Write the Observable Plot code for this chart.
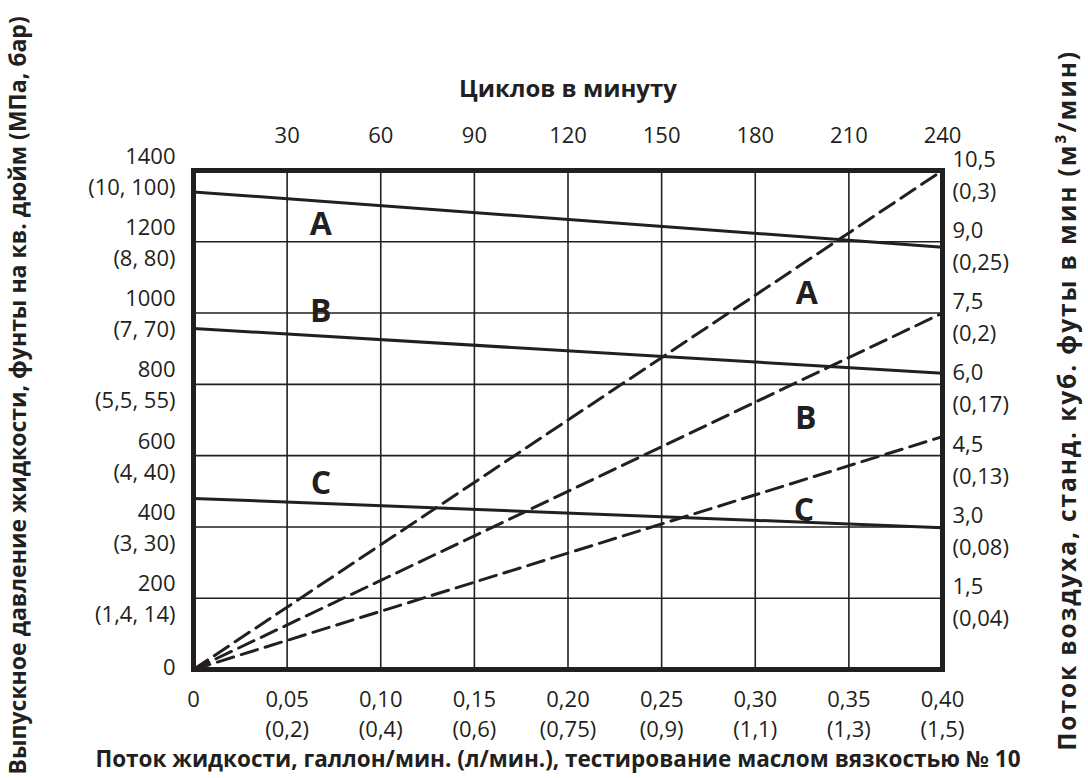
<!DOCTYPE html>
<html><head><meta charset="utf-8">
<script src="https://cdn.jsdelivr.net/npm/d3@7"></script>
<script src="https://cdn.jsdelivr.net/npm/@observablehq/plot@0.6"></script>
<style>
html,body{margin:0;padding:0;background:#fff;}
#chart svg{display:block;}
</style></head><body><div id="chart"></div>
<script>
// Fluid flow (gpm) ticks and labels
const flowTicks = [0, 0.05, 0.10, 0.15, 0.20, 0.25, 0.30, 0.35, 0.40];
const flowLabels = ["0", "0,05", "0,10", "0,15", "0,20", "0,25", "0,30", "0,35", "0,40"];
const flowLpmLabels = ["", "(0,2)", "(0,4)", "(0,6)", "(0,75)", "(0,9)", "(1,1)", "(1,3)", "(1,5)"];
// Cycles per minute (top axis)
const cycleTicks = [30, 60, 90, 120, 150, 180, 210, 240];
// Pressure (psi) ticks and labels
const pressureTicks = [0, 200, 400, 600, 800, 1000, 1200, 1400];
const pressureLabels = ["0", "200", "400", "600", "800", "1000", "1200", "1400"];
const pressureMetricLabels = ["", "(1,4, 14)", "(3, 30)", "(4, 40)", "(5,5, 55)", "(7, 70)", "(8, 80)", "(10, 100)"];
// Air flow (scfm) ticks and labels
const airTicks = [1.5, 3.0, 4.5, 6.0, 7.5, 9.0, 10.5];
const airLabels = ["1,5", "3,0", "4,5", "6,0", "7,5", "9,0", "10,5"];
const airMetricLabels = ["(0,04)", "(0,08)", "(0,13)", "(0,17)", "(0,2)", "(0,25)", "(0,3)"];
// Curves
const models = ["A", "B", "C"];
const pressureAtZeroFlow = [1340, 957, 480];
const pressureAtMaxFlow = [1185, 831, 398];
const airAtMaxFlow = [10.5, 7.5, 4.9];
// Curve label annotations (data coordinates)
const pressureLabelFlow = [0.068, 0.068, 0.068];
const pressureLabelPressure = [1249, 1005, 522];
const airLabelFlow = [0.3275, 0.327, 0.326];
const airLabelPressure = [1053, 704, 446];
// Titles
const topTitle = "Циклов в минуту";
const bottomTitle = "Поток жидкости, галлон/мин. (л/мин.), тестирование маслом вязкостью № 10";
const leftTitle = "Выпускное давление жидкости, фунты на кв. дюйм (МПа, бар)";
const rightTitle = "Поток воздуха, станд. куб. футы в мин (м³/мин)";

const flowMax = 0.40, cyclesMax = 240, pressureMax = 1400, airMax = 10.5;
const airToPressure = a => a / airMax * pressureMax;
const cyclesToFlow = c => c / cyclesMax * flowMax;

const ink = "#231f20";
const font = "'Open Sans', sans-serif";
const tickSize = 22;

const solid = models.flatMap((m, i) => [
  {m, f: 0, p: pressureAtZeroFlow[i]},
  {m, f: flowMax, p: pressureAtMaxFlow[i]}
]);
const dashed = models.flatMap((m, i) => [
  {m, f: 0, p: 0},
  {m, f: flowMax, p: airToPressure(airAtMaxFlow[i])}
]);
const idx = a => a.map((_, i) => i);

const chart = Plot.plot({
  width: 1088, height: 778,
  marginLeft: 193, marginRight: 146, marginTop: 170, marginBottom: 109,
  x: {domain: [0, flowMax], axis: null},
  y: {domain: [0, pressureMax], axis: null},
  style: {fontFamily: font, color: ink, background: "white", overflow: "visible"},
  marks: [
    Plot.ruleX(flowTicks.slice(1, -1), {stroke: ink, strokeWidth: 1.6}),
    Plot.ruleY(pressureTicks.slice(1, -1), {stroke: ink, strokeWidth: 1.6}),
    Plot.line(solid, {x: "f", y: "p", z: "m", stroke: ink, strokeWidth: 3}),
    Plot.line(dashed, {x: "f", y: "p", z: "m", stroke: ink, strokeWidth: 3, strokeDasharray: "17,8"}),
    Plot.frame({stroke: ink, strokeWidth: 5}),
    // bottom ticks
    Plot.text(idx(flowTicks), {x: i => flowTicks[i], text: i => flowLabels[i], frameAnchor: "bottom", dy: 37, fontSize: tickSize, fill: ink}),
    Plot.text(idx(flowTicks), {x: i => flowTicks[i], text: i => flowLpmLabels[i], frameAnchor: "bottom", dy: 67, fontSize: tickSize, fill: ink}),
    // top ticks
    Plot.text(cycleTicks, {x: d => cyclesToFlow(d), text: d => String(d), frameAnchor: "top", dy: -43, fontSize: tickSize, fill: ink}),
    // left ticks
    Plot.text(idx(pressureTicks).slice(1), {y: i => pressureTicks[i], text: i => pressureLabels[i], frameAnchor: "left", textAnchor: "end", dx: -18, dy: -14, fontSize: tickSize, fill: ink}),
    Plot.text(idx(pressureTicks).slice(1), {y: i => pressureTicks[i], text: i => pressureMetricLabels[i], frameAnchor: "left", textAnchor: "end", dx: -18, dy: 17, fontSize: tickSize, fill: ink}),
    Plot.text([0], {y: i => pressureTicks[i], text: i => pressureLabels[i], frameAnchor: "left", textAnchor: "end", dx: -18, dy: -2, fontSize: tickSize, fill: ink}),
    // right ticks
    Plot.text(idx(airTicks), {y: i => airToPressure(airTicks[i]), text: i => airLabels[i], frameAnchor: "right", textAnchor: "start", dx: 10, dy: -11, fontSize: tickSize, fill: ink}),
    Plot.text(idx(airTicks), {y: i => airToPressure(airTicks[i]), text: i => airMetricLabels[i], frameAnchor: "right", textAnchor: "start", dx: 10, dy: 21, fontSize: tickSize, fill: ink}),
    // curve labels
    Plot.text(idx(models), {x: i => pressureLabelFlow[i], y: i => pressureLabelPressure[i], text: i => models[i], fontSize: 32, fontWeight: "bold", fill: ink}),
    Plot.text(idx(models), {x: i => airLabelFlow[i], y: i => airLabelPressure[i], text: i => models[i], fontSize: 32, fontWeight: "bold", fill: ink}),
    // axis titles
    Plot.text([topTitle], {frameAnchor: "top", dy: -91, fontSize: 24, fontWeight: "bold", fill: ink}),
    Plot.text([bottomTitle], {frameAnchor: "bottom", dx: -10, dy: 97, fontSize: 22.5, fontWeight: "bold", fill: ink}),
    Plot.text([leftTitle], {x: -0.0935, y: 769, rotate: -90, fontSize: 23, fontWeight: "bold", fill: ink}),
    Plot.text([rightTitle], {x: 0.4673, y: 755, rotate: -90, fontSize: 24.5, fontWeight: "bold", fill: ink})
  ]
});
// widen the right title's letter spacing to match the reference length
d3.select(chart).selectAll("text").filter(function() { return this.textContent === rightTitle; })
  .attr("letter-spacing", "1.9px");
document.getElementById("chart").appendChild(chart);
</script>
</body></html>
